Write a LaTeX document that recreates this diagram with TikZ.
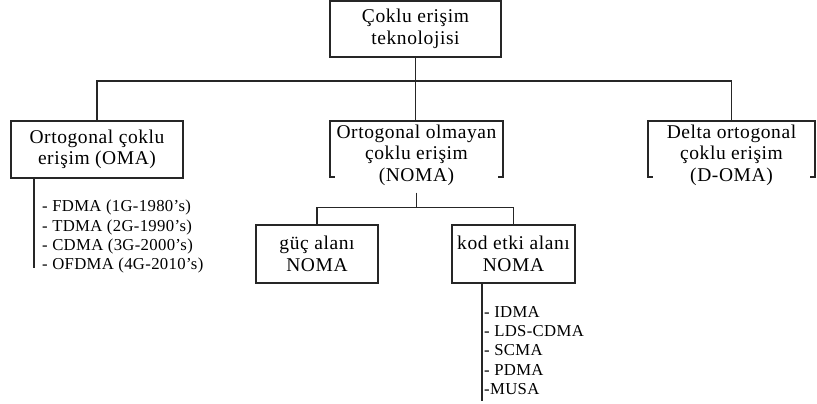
\documentclass[tikz,border=0pt]{standalone}
\usepackage{fontspec}
\setmainfont{Liberation Serif}[LetterSpace=3]
\newcommand\bxfont{\fontsize{19.5}{21.5}\selectfont}
\newcommand\lsfont{\addfontfeatures{LetterSpace=2}\fontsize{16.7}{19.3}\selectfont}
\begin{document}
\begin{tikzpicture}[x=1pt,y=-1pt,
  line/.style={draw=black!85, line width=1.6pt},
  box/.style={line, rectangle, inner sep=0pt, align=center, font=\bxfont},
  txt/.style={inner sep=0pt, align=center, font=\bxfont},
  frame/.style={inner sep=0pt, rectangle},
  listing/.style={inner sep=0pt, align=left, font=\lsfont, anchor=north west}]
\useasboundingbox[fill=white] (0,0) rectangle (817,404);

% root
\node[box, minimum width=171, minimum height=56] (root) at (415.5,29) {Çoklu erişim\\teknolojisi};

% first level
\node[box, minimum width=172, minimum height=57] (oma) at (97,149.5) {Ortogonal çoklu\\erişim (OMA)};
\node[frame, minimum width=173, minimum height=56] (nomaF) at (416.5,149) {};
\node[txt] (noma) at (416.5,155) {Ortogonal olmayan\\çoklu erişim\\(NOMA)};
\node[frame, minimum width=167, minimum height=56] (deltaF) at (731.5,149) {};
\node[txt] (delta) at (731.5,155) {Delta ortogonal\\çoklu erişim\\(D-OMA)};

% bracket-style frames
\draw[line] ([xshift=5pt]nomaF.south west) -- (nomaF.south west) -- (nomaF.north west)
  -- (nomaF.north east) -- (nomaF.south east) -- ([xshift=-5pt]nomaF.south east);
\draw[line] ([xshift=5pt]deltaF.south west) -- (deltaF.south west) -- (deltaF.north west)
  -- (deltaF.north east) -- (deltaF.south east) -- ([xshift=-5pt]deltaF.south east);

% second level
\node[box, minimum width=122, minimum height=58] (guc) at (317,254) {güç alanı\\NOMA};
\node[box, minimum width=123, minimum height=58] (kod) at (513.5,254) {kod etki alanı\\NOMA};

% tree connectors
\draw[line] (root.south) -- (root.south |- nomaF.north);
\draw[line] (oma.north) |- ([yshift=-23pt]root.south) -| (deltaF.north);
\draw[line] ([yshift=-7pt]noma.south) -- ([yshift=-22pt]noma.south);
\draw[line] (guc.north) |- ([yshift=-22pt]noma.south) -| (kod.north);

% lists
\draw[line] ([xshift=24pt]oma.south west) -- ++(0,89);
\node[listing] (omalist) at (42,200) {- FDMA (1G-1980’s)\\- TDMA (2G-1990’s)\\- CDMA (3G-2000’s)\\- OFDMA (4G-2010’s)};
\draw[line] ([xshift=-31.5pt]kod.south) -- ++(0,117);
\node[listing] (kodlist) at (484,306) {- IDMA\\- LDS-CDMA\\- SCMA\\- PDMA\\-MUSA};
\end{tikzpicture}
\end{document}
